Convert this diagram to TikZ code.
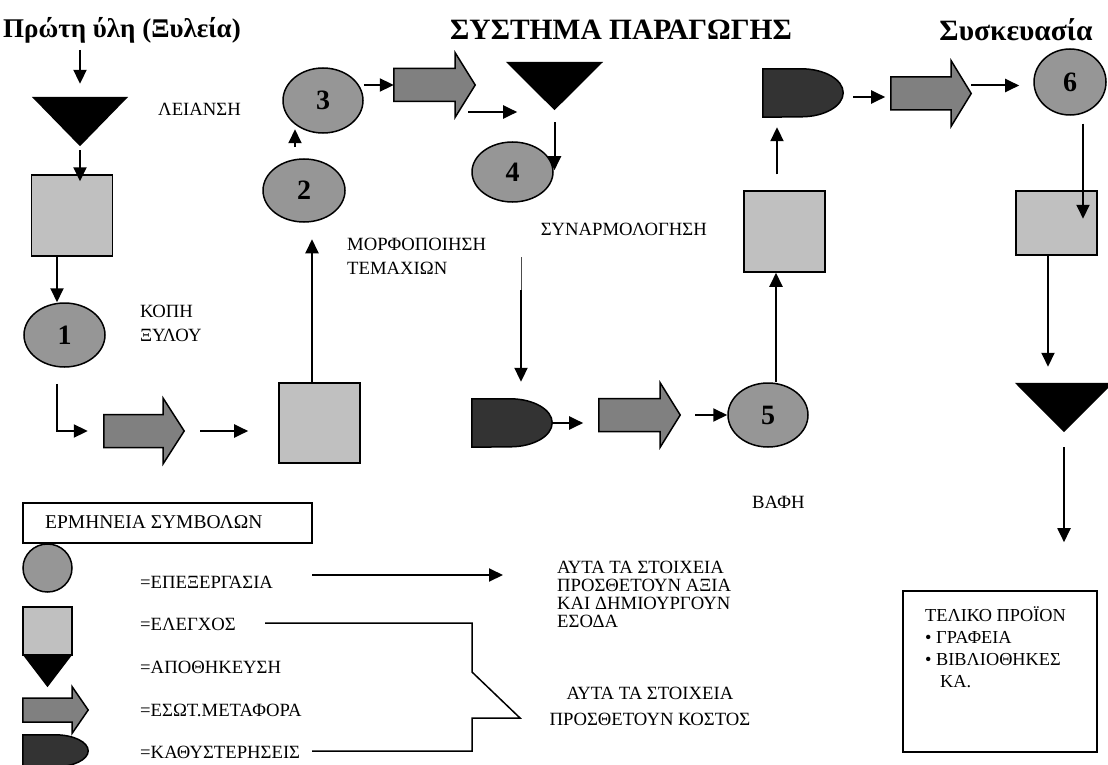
\documentclass[tikz,border=0pt]{standalone}
\usepackage{fontspec}
\setmainfont{Liberation Serif}
\usetikzlibrary{shapes.geometric,arrows.meta,calc}

\definecolor{procgray}{RGB}{150,150,150}
\definecolor{ctrlgray}{RGB}{192,192,192}
\definecolor{movegray}{RGB}{128,128,128}
\definecolor{waitgray}{RGB}{51,51,51}

\tikzset{
  outline/.style={draw=black, line width=1.5pt},
  proc/.style={ellipse, outline, fill=procgray, inner sep=0pt,
    minimum width=81pt, minimum height=64pt,
    font=\bfseries\fontsize{28}{28}\selectfont},
  ctrl/.style={rectangle, outline, fill=ctrlgray, inner sep=0pt,
    minimum width=81pt, minimum height=81pt},
  slot/.style={rectangle, inner sep=0pt},
  conn/.style={line width=2pt, -{Triangle[length=14pt,width=13pt]}},
  lbl/.style={font=\fontsize{18.7}{24}\selectfont, inner sep=0pt, align=left},
  heading/.style={font=\bfseries\fontsize{29.5}{32}\selectfont, inner sep=0pt},
}

% storage: black downward triangle filling the frame of a node
\newcommand\storeshape[1]{\fill[black] (#1.north west) -- (#1.north east) -- (#1.south) -- cycle;}
% delay: flat left side, rounded right end (#2 = x radius, #3 = half height)
\newcommand\waitshape[3]{\filldraw[outline, fill=waitgray]
  (#1.north west) -- ([xshift=-#2]#1.north east)
  arc[start angle=90, end angle=-90, x radius=#2, y radius=#3]
  -- (#1.south west) -- cycle;}
% transport: block arrow (#2 = head length, #3 = half shaft thickness)
\newcommand\moveshape[3]{\filldraw[outline, fill=movegray]
  ([yshift=#3]#1.west) -- ([xshift=-#2,yshift=#3]#1.east)
  -- ([xshift=-#2]#1.north east) -- (#1.east)
  -- ([xshift=-#2]#1.south east) -- ([xshift=-#2,yshift=-#3]#1.east)
  -- ([yshift=-#3]#1.west) -- cycle;}

\begin{document}
\begin{tikzpicture}[x=1pt, y=-1pt]
\path[use as bounding box, clip] (0,0) rectangle (1108,765);

% ---- headings
\node[heading, font=\bfseries\fontsize{27}{30}\selectfont] (hraw) at (122,30) {Πρώτη ύλη (Ξυλεία)};
\node[heading] (hsys)  at (621,30) {ΣΥΣΤΗΜΑ ΠΑΡΑΓΩΓΗΣ};
\node[heading] (hpack) at (1016,30) {Συσκευασία};

% ---- process chain
\node[slot, minimum width=96pt, minimum height=49pt] (s1) at (80,121.5) {};
\storeshape{s1}
\node[ctrl] (c1) at (72,215.5) {};
\node[proc] (p1) at (64.5,335) {1};
\node[slot, minimum width=80pt, minimum height=65pt] (m1) at (144,431) {};
\moveshape{m1}{21pt}{16.5pt}
\node[ctrl, minimum height=80pt] (c2) at (319.5,423) {};
\node[proc, minimum width=82pt, minimum height=63pt] (p2) at (304,190.5) {2};
\node[proc, minimum width=80pt, minimum height=65pt] (p3) at (323,100.5) {3};
\node[slot, minimum width=81pt, minimum height=64pt] (m2) at (434.5,85) {};
\moveshape{m2}{20pt}{16.5pt}
\node[slot, minimum width=97pt, minimum height=48pt] (s2) at (554.5,86) {};
\storeshape{s2}
\node[proc, minimum height=60pt] (p4) at (512.5,172) {4};
\node[slot, minimum width=80pt, minimum height=48pt] (d1) at (512,423) {};
\waitshape{d1}{42pt}{24pt}
\node[slot, minimum width=81pt, minimum height=64pt] (m3) at (639.5,415) {};
\moveshape{m3}{20pt}{16.5pt}
\node[proc, minimum width=80pt] (p5) at (768,415) {5};
\node[ctrl] (c3) at (784.5,231.5) {};
\node[slot, minimum width=80pt, minimum height=48pt] (d2) at (803,93) {};
\waitshape{d2}{42pt}{24pt}
\node[slot, minimum width=80pt, minimum height=65pt] (m4) at (931,93.5) {};
\moveshape{m4}{20pt}{16.5pt}
\node[proc, minimum width=72pt, minimum height=66pt] (p6) at (1070,82) {6};
\node[ctrl, minimum height=64pt] (c4) at (1056.5,223) {};
\node[slot, minimum width=98pt, minimum height=49pt] (s3) at (1064,407.5) {};
\storeshape{s3}
\node[draw, line width=1.5pt, minimum width=194pt, minimum height=161pt] (fb) at (1000,671.5) {};

% ---- step labels
\node[lbl, anchor=west] (lsand) at (158,109) {ΛΕΙΑΝΣΗ};
\node[lbl, anchor=north west] (lcut) at (140,305) {ΚΟΠΗ\\ΞΥΛΟΥ};
\node[lbl, anchor=north west] (lform) at (347,238) {ΜΟΡΦΟΠΟΙΗΣΗ\\ΤΕΜΑΧΙΩΝ};
\node[lbl, anchor=east] (lasm) at (707,229) {ΣΥΝΑΡΜΟΛΟΓΗΣΗ};
\node[lbl, anchor=west] (lpaint) at (752,502) {ΒΑΦΗ};
\node[lbl, anchor=north west, font=\fontsize{18.3}{22}\selectfont] (lfinal) at (925,606)
  {ΤΕΛΙΚΟ ΠΡΟΪΟΝ\\• ΓΡΑΦΕΙΑ\\• ΒΙΒΛΙΟΘΗΚΕΣ\\\hspace*{15pt}ΚΑ.};

% ---- flow connectors
\coordinate (in0) at (80,50);
\draw[conn] (in0) -- ([yshift=13pt]s1.north);
\draw[conn] ([yshift=-4pt]s1.south) -- ([yshift=-7pt]s1.south |- c1.north);
\draw[conn] ([xshift=-15pt]c1.south) -- ([xshift=-15pt]c1.south |- p1.north);
\draw[conn] ([xshift=-7.5pt,yshift=-16pt]p1.south) |- ([xshift=-16pt]m1.west);
\draw[conn] ([xshift=16pt]m1.east) -- ++(48,0);
\draw[conn] ([xshift=-7.5pt]c2.north) -- ++(0,-143);
\draw[conn] ([xshift=-9pt,yshift=11pt]p2.north) -- ++(0,-18);
\draw[conn] (p3.east |- m2.west) -- (m2.west);
\draw[conn] ([xshift=-7pt,yshift=-27pt]m2.east) -- ++(49,0);
\draw[conn] ([yshift=-12pt]s2.south) -- ++(0,48);
\coordinate (j1) at (521,257);
\draw[line width=0.6pt, black!70] (j1) -- ++(0,33) coordinate (j2);
\draw[conn] (j2) -- ([xshift=9pt,yshift=17pt]d1.north);
\draw[conn] (d1.east) -- ++(31,0);
\draw[conn] ([xshift=15pt]m3.east) -- (p5.west);
\draw[conn] ([xshift=8pt]p5.north) -- ([xshift=-8.5pt]c3.south);
\draw[conn] ([xshift=-7.5pt,yshift=16pt]c3.north) -- ([xshift=-26pt,yshift=-10pt]d2.south);
\draw[conn] ([xshift=10pt,yshift=-4pt]d2.east) -- ++(32,0);
\draw[conn] ([yshift=8pt]m4.east) -- ++(48,0);
\draw[conn] ([xshift=13pt,yshift=-8pt]p6.south) -- ++(0,95);
\draw[conn] ([xshift=-8.5pt]c4.south) -- ++(0,111);
\draw[conn] ([yshift=-15pt]s3.south) -- ++(0,95);

% ---- legend
\node[draw, line width=1.5pt, minimum width=289pt, minimum height=40pt] (lgbox) at (167.5,523) {};
\node[lbl, anchor=west, font=\fontsize{19.5}{24}\selectfont] (lgtitle) at (45,522) {ΕΡΜΗΝΕΙΑ ΣΥΜΒΟΛΩΝ};
\node[proc, minimum width=49pt, minimum height=48pt] (lgp) at (47.5,568) {};
\node[ctrl, minimum width=49pt, minimum height=48pt] (lgc) at (47.5,631) {};
\node[slot, minimum width=49pt, minimum height=32pt] (lgs) at (47.5,671) {};
\storeshape{lgs}
\node[slot, minimum width=65pt, minimum height=46pt] (lgm) at (55.5,710) {};
\moveshape{lgm}{16pt}{12pt}
\node[slot, minimum width=65pt, minimum height=32pt] (lgw) at (55.5,751) {};
\waitshape{lgw}{33pt}{16pt}

\node[lbl, anchor=west] (t1) at (140,582) {=ΕΠΕΞΕΡΓΑΣΙΑ};
\node[lbl, anchor=west] (t2) at (140,624) {=ΕΛΕΓΧΟΣ};
\node[lbl, anchor=west] (t3) at (140,667) {=ΑΠΟΘΗΚΕΥΣΗ};
\node[lbl, anchor=west] (t4) at (140,710) {=ΕΣΩΤ.ΜΕΤΑΦΟΡΑ};
\node[lbl, anchor=west] (t5) at (140,752) {=ΚΑΘΥΣΤΕΡΗΣΕΙΣ};

\node[lbl, anchor=north west, font=\fontsize{18.7}{18}\selectfont] (vadd) at (557,561)
  {ΑΥΤΑ ΤΑ ΣΤΟΙΧΕΙΑ\\ΠΡΟΣΘΕΤΟΥΝ ΑΞΙΑ\\ΚΑΙ ΔΗΜΙΟΥΡΓΟΥΝ\\ΕΣΟΔΑ};
\node[lbl, anchor=north, align=center, font=\fontsize{18.7}{26}\selectfont] (cadd) at (650,687)
  {ΑΥΤΑ ΤΑ ΣΤΟΙΧΕΙΑ\\ΠΡΟΣΘΕΤΟΥΝ ΚΟΣΤΟΣ};

\coordinate (vaddtip) at (503,575);
\draw[conn] (t1.east -| 312,0) ++(0,-7) -- (vaddtip);
\draw[line width=1.5pt] (265,623) -- (472,623) -- (472,672)
  -- (520,718) -- (472,718) -- (472,751) -- (312,751);
\end{tikzpicture}
\end{document}
